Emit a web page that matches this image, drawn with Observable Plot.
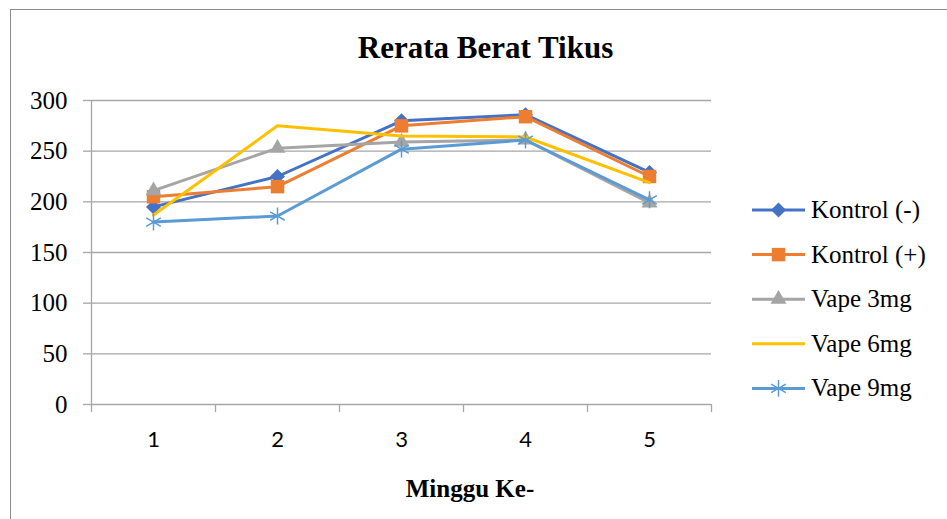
<!DOCTYPE html>
<html><head><meta charset="utf-8">
<script src="https://cdn.jsdelivr.net/npm/d3@7"></script>
<script src="https://cdn.jsdelivr.net/npm/@observablehq/plot@0.6"></script>
<style>
html,body{margin:0;padding:0;background:#fff;overflow:hidden;}
#wrap{position:relative;width:947px;height:519px;overflow:hidden;}
#border{position:absolute;left:10px;top:9px;width:1000px;height:600px;border:1.5px solid #8c8c8c;box-sizing:border-box;}
#chart{position:absolute;left:0;top:0;}
#legend{position:absolute;left:0;top:0;}
</style></head><body>
<div id="wrap"><div id="border"></div><div id="chart"></div><svg id="legend" width="947" height="519"></svg></div>
<script>
const weeks = [1, 2, 3, 4, 5];
const seriesNames = ["Kontrol (-)", "Kontrol (+)", "Vape 3mg", "Vape 6mg", "Vape 9mg"];
const kontrolMin  = [195, 225, 280, 286, 229];
const kontrolPlus = [205, 215, 275, 284, 225];
const vape3       = [211, 253, 259, 261, 199];
const vape6       = [187, 275, 265, 264, 219];
const vape9       = [180, 186, 252, 261, 202];
const yTicks = [0, 50, 100, 150, 200, 250, 300];
const titleText = "Rerata Berat Tikus";
const xTitleText = "Minggu Ke-";

const seriesColors = ["#4472C4", "#ED7D31", "#A5A5A5", "#FFC000", "#5B9BD5"];
const seriesSymbols = ["diamond2", "square", "triangle", null, "asterisk"];
const seriesR = [6.75, 7.6, 5.9, 0, 8];

const values = [kontrolMin, kontrolPlus, vape3, vape6, vape9];
const rows = seriesNames.flatMap((name, i) => weeks.map((w, j) => ({series: name, week: w, value: values[i][j]})));
const boundaries = weeks.map(w => w - 0.5).concat([weeks[weeks.length - 1] + 0.5]);
const serif = "Liberation Serif";
const sans = "Lato";
const axisGray = "#a6a6a6";

const seriesMarks = seriesNames.flatMap((name, i) => {
  const d = rows.filter(r => r.series === name);
  const m = [Plot.line(d, {x: "week", y: "value", stroke: seriesColors[i], strokeWidth: 3})];
  const sym = seriesSymbols[i];
  if (sym === "asterisk") {
    m.push(Plot.dot(d, {x: "week", y: "value", symbol: sym, r: seriesR[i], stroke: seriesColors[i], fill: "none", strokeWidth: 1.5}));
  } else if (sym) {
    m.push(Plot.dot(d, {x: "week", y: "value", symbol: sym, r: seriesR[i], fill: seriesColors[i], stroke: "none"}));
  }
  return m;
});

const chart = Plot.plot({
  width: 947, height: 519,
  marginLeft: 91, marginRight: 236, marginTop: 100, marginBottom: 115,
  style: {background: "transparent", fontFamily: serif, color: "#000", overflow: "visible"},
  x: {type: "linear", domain: [boundaries[0], boundaries[boundaries.length - 1]], axis: null},
  y: {domain: [yTicks[0], yTicks[yTicks.length - 1]], axis: null},
  marks: [
    Plot.gridY(yTicks.filter(t => t > 0), {stroke: axisGray, strokeOpacity: 1, strokeWidth: 1.3}),
    Plot.axisY({ticks: yTicks, tickSize: 8, tickPadding: 16, fontSize: 25, fontFamily: serif, fontVariant: "normal", stroke: axisGray, strokeWidth: 1.3, label: null, ariaLabel: "y ticks"}),
    Plot.axisX({ticks: boundaries, tickFormat: () => "", tickSize: 8, stroke: axisGray, strokeWidth: 1.3, label: null, ariaLabel: "x boundary ticks"}),
    Plot.axisX({ticks: weeks, tickFormat: d => String(d), tickSize: 0, tickPadding: 27, fontSize: 22, fontFamily: sans, fontVariant: "normal", label: null, ariaLabel: "x ticks"}),
    Plot.ruleY([0], {stroke: axisGray, strokeWidth: 1.3}),
    Plot.ruleX([boundaries[0]], {stroke: axisGray, strokeWidth: 1.3}),
    ...seriesMarks,
    Plot.text([titleText], {frameAnchor: "top", dx: 84, dy: -52, lineAnchor: "middle", fontSize: 31, fontWeight: "bold", fontFamily: serif, fill: "#000"}),
    Plot.text([xTitleText], {frameAnchor: "bottom", dx: 68.5, dy: 84, lineAnchor: "middle", fontSize: 25, fontWeight: "bold", fontFamily: serif, fill: "#000"})
  ]
});
document.getElementById("chart").appendChild(chart);

// Legend
const symMap = {diamond2: d3.symbolDiamond2, square: d3.symbolSquare, triangle: d3.symbolTriangle, asterisk: d3.symbolAsterisk};
const lg = d3.select("#legend");
seriesNames.forEach((name, i) => {
  const y = 210 + i * 44.6;
  const g = lg.append("g");
  g.append("line").attr("x1", 752).attr("x2", 805).attr("y1", y).attr("y2", y)
    .attr("stroke", seriesColors[i]).attr("stroke-width", 3);
  const sym = seriesSymbols[i];
  if (sym) {
    const p = g.append("path").attr("transform", `translate(778.5,${y})`)
      .attr("d", d3.symbol(symMap[sym], Math.PI * seriesR[i] * seriesR[i])());
    if (sym === "asterisk") p.attr("fill", "none").attr("stroke", seriesColors[i]).attr("stroke-width", 1.5);
    else p.attr("fill", seriesColors[i]);
  }
  g.append("text").attr("x", 811).attr("y", y).attr("dy", "0.32em")
    .attr("font-family", serif)
    .attr("font-size", 25).attr("fill", "#000").text(name);
});
</script>
</body></html>
